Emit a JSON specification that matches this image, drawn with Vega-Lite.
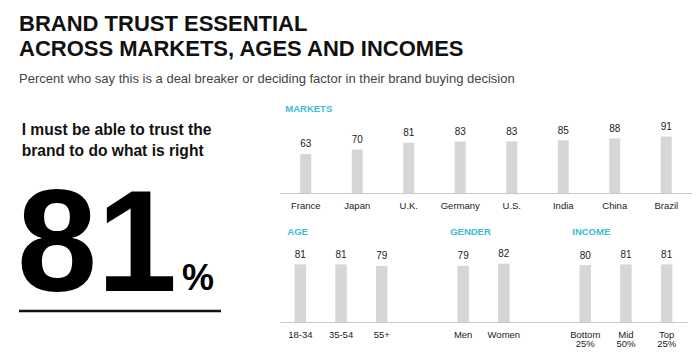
{
  "$schema": "https://vega.github.io/schema/vega-lite/v6.json",
  "background": "white",
  "padding": {"left": 16, "top": 13, "right": 0, "bottom": 0},
  "config": {
    "font": "Liberation Sans",
    "view": {"stroke": null},
    "axis": {"grid": false}
  },
  "title": {
    "text": ["BRAND TRUST ESSENTIAL", "ACROSS MARKETS, AGES AND INCOMES"],
    "subtitle": "Percent who say this is a deal breaker or deciding factor in their brand buying decision",
    "anchor": "start",
    "frame": "group",
    "dx": 3,
    "font": "Liberation Sans",
    "fontSize": 22,
    "fontWeight": "bold",
    "lineHeight": 25,
    "color": "#111111",
    "subtitleFont": "Liberation Sans",
    "subtitleFontSize": 13,
    "subtitleColor": "#444444",
    "subtitlePadding": 12,
    "offset": 16
  },
  "datasets": {
    "overall": [
      {"statement": "I must be able to trust the\nbrand to do what is right", "value": 81}
    ],
    "markets": [
      {"market": "France", "value": 63},
      {"market": "Japan", "value": 70},
      {"market": "U.K.", "value": 81},
      {"market": "Germany", "value": 83},
      {"market": "U.S.", "value": 83},
      {"market": "India", "value": 85},
      {"market": "China", "value": 88},
      {"market": "Brazil", "value": 91}
    ],
    "marketHeader": [
      {"market": "France", "header": "MARKETS"}
    ],
    "segments": [
      {"segment": "18-34", "value": 81},
      {"segment": "35-54", "value": 81},
      {"segment": "55+", "value": 79},
      {"segment": "Men", "value": 79},
      {"segment": "Women", "value": 82},
      {"segment": "Bottom 25%", "value": 80},
      {"segment": "Mid 50%", "value": 81},
      {"segment": "Top 25%", "value": 81}
    ],
    "segmentHeaders": [
      {"segment": "18-34", "header": "AGE"},
      {"segment": "Men", "header": "GENDER"},
      {"segment": "Bottom 25%", "header": "INCOME"}
    ]
  },
  "bounds": "flush",
  "spacing": 59,
  "hconcat": [
    {
      "width": 205,
      "height": 208,
      "data": {"name": "overall"},
      "layer": [
        {
          "mark": {"type": "text", "align": "left", "baseline": "alphabetic", "fontSize": 15.6, "fontWeight": "bold", "lineBreak": "\n", "lineHeight": 20.7, "color": "#111111"},
          "encoding": {
            "x": {"datum": 5.7, "type": "quantitative", "scale": {"domain": [0, 205], "nice": false, "zero": false}, "axis": null},
            "y": {"datum": 176, "type": "quantitative", "scale": {"domain": [0, 208], "nice": false, "zero": false}, "axis": null},
            "text": {"field": "statement"}
          }
        },
        {
          "mark": {"type": "text", "align": "left", "baseline": "alphabetic", "fontSize": 144, "fontWeight": "bold", "color": "#000000"},
          "encoding": {
            "x": {"datum": 1, "type": "quantitative"},
            "y": {"datum": 20, "type": "quantitative"},
            "text": {"field": "value"}
          }
        },
        {
          "mark": {"type": "text", "align": "left", "baseline": "alphabetic", "fontSize": 36, "fontWeight": "bold", "color": "#000000", "text": "%"},
          "encoding": {
            "x": {"datum": 166, "type": "quantitative"},
            "y": {"datum": 21, "type": "quantitative"}
          }
        },
        {
          "mark": {"type": "rule", "color": "#111111", "strokeWidth": 2.5},
          "encoding": {
            "x": {"datum": 3, "type": "quantitative"},
            "x2": {"datum": 205},
            "y": {"datum": 0, "type": "quantitative"}
          }
        }
      ]
    },
    {
      "bounds": "flush",
      "spacing": 33,
      "vconcat": [
        {
          "width": 412,
          "height": 90,
          "encoding": {
            "x": {
              "field": "market",
              "type": "nominal",
              "scale": {"domain": ["France", "Japan", "U.K.", "Germany", "U.S.", "India", "China", "Brazil"], "paddingInner": 0, "paddingOuter": 0},
              "axis": {"title": null, "ticks": false, "domainColor": "#c8c8c8", "domainWidth": 1, "labelFontSize": 9.5, "labelColor": "#222222", "labelPadding": 7, "labelAngle": 0}
            }
          },
          "layer": [
            {
              "data": {"name": "markets"},
              "mark": {"type": "bar", "width": 11, "color": "#d6d6d6"},
              "encoding": {
                "y": {"field": "value", "type": "quantitative", "scale": {"domain": [0, 145], "nice": false}, "axis": null}
              }
            },
            {
              "data": {"name": "markets"},
              "mark": {"type": "text", "baseline": "alphabetic", "dy": -6.5, "fontSize": 10, "color": "#222222"},
              "encoding": {
                "y": {"field": "value", "type": "quantitative"},
                "text": {"field": "value"}
              }
            },
            {
              "data": {"name": "marketHeader"},
              "mark": {"type": "text", "align": "left", "baseline": "alphabetic", "dx": -20.5, "fontSize": 9.5, "fontWeight": "bold", "color": "#3bbcd6"},
              "encoding": {
                "y": {"datum": 130, "type": "quantitative"},
                "text": {"field": "header"}
              }
            }
          ]
        },
        {
          "width": 407,
          "height": 96,
          "encoding": {
            "x": {
              "field": "segment",
              "type": "nominal",
              "scale": {"domain": ["18-34", "35-54", "55+", "gap1", "Men", "Women", "gap2", "Bottom 25%", "Mid 50%", "Top 25%"], "paddingInner": 0, "paddingOuter": 0},
              "axis": {"title": null, "ticks": false, "domainColor": "#c8c8c8", "domainWidth": 1, "labelFontSize": 9.5, "labelColor": "#222222", "labelPadding": 7, "labelAngle": 0, "labelLineHeight": 9.5, "labelExpr": "indexof(datum.value, 'gap') === 0 ? '' : split(datum.value, ' ')"}
            }
          },
          "layer": [
            {
              "data": {"name": "segments"},
              "mark": {"type": "bar", "width": 11.5, "color": "#d6d6d6"},
              "encoding": {
                "y": {"field": "value", "type": "quantitative", "scale": {"domain": [0, 135], "nice": false}, "axis": null}
              }
            },
            {
              "data": {"name": "segments"},
              "mark": {"type": "text", "baseline": "alphabetic", "dy": -6.5, "fontSize": 10, "color": "#222222"},
              "encoding": {
                "y": {"field": "value", "type": "quantitative"},
                "text": {"field": "value"}
              }
            },
            {
              "data": {"name": "segmentHeaders"},
              "mark": {"type": "text", "align": "left", "baseline": "alphabetic", "dx": -13, "fontSize": 9.5, "fontWeight": "bold", "color": "#3bbcd6"},
              "encoding": {
                "y": {"datum": 122.8, "type": "quantitative"},
                "text": {"field": "header"}
              }
            }
          ]
        }
      ]
    }
  ]
}
